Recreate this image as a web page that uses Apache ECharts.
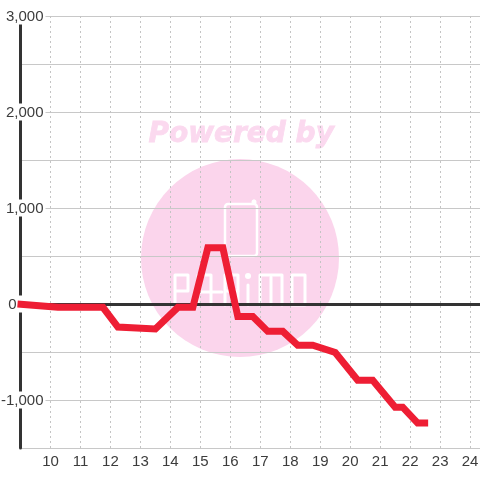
<!DOCTYPE html>
<html>
<head>
<meta charset="utf-8">
<style>html,body{margin:0;padding:0;background:#fff}#c{width:480px;height:480px}</style>
<script src="https://cdn.jsdelivr.net/npm/echarts@6/dist/echarts.min.js"></script>
</head>
<body>
<div id="c"></div>
<script>
const hours = [8.9,10.25,11.75,12.25,13.5,14.25,14.75,15.25,15.75,16.25,16.75,17.25,17.75,18.25,18.75,19.5,20.25,20.75,21.5,21.75,22.25,22.6];
const values = [0,-35,-35,-240,-260,-35,-35,585,585,-130,-130,-285,-285,-430,-430,-505,-795,-795,-1075,-1075,-1240,-1240];
const xTicks = [10,11,12,13,14,15,16,17,18,19,20,21,22,23,24];
const yTicks = [-1000,0,1000,2000,3000];
const seriesData = hours.map((h,i)=>[h,values[i]]);
const pink = '#fbd5ec';
const wm = {stroke:'#ffffff',fill:null,lineWidth:3,lineJoin:'round',lineCap:'round'};
const wmLines = [
 [[175,305],[175,275],[188,275],[188,291],[176,291]],
 [[198,305],[198,275],[211,275],[211,305]],
 [[198,292],[222,292]],
 [[225,305],[225,275],[238,275],[238,291],[226,291]],
 [[238,291],[238,305]],
 [[248,305],[248,285]],
 [[260,305],[260,275],[282,275],[282,305]],
 [[271,277],[271,305]],
 [[292,275],[305,275],[305,305],[292,305],[292,275]],
 [[254,203],[254,201]]
];
const chart = echarts.init(document.getElementById('c'), null, {renderer:'canvas'});
chart.setOption({
 animation:false,
 backgroundColor:'#fff',
 grid:{left:20.5,right:0,top:16,bottom:32,outerBoundsMode:'none'},
 graphic:[
  {type:'circle',z:-10,silent:true,shape:{cx:240,cy:258,r:99},style:{fill:pink}},
  {type:'text',z:-10,silent:true,left:148,top:120,style:{text:'Powered by',fill:'#fbd9ef',stroke:'#fbd9ef',lineWidth:0.8,font:'italic bold 28px "DejaVu Sans"'}},
  {type:'rect',z:-9,silent:true,shape:{x:225,y:204,width:32,height:52,r:3},style:{fill:null,stroke:'#fff',lineWidth:2.5}},
  {type:'circle',z:-9,silent:true,shape:{cx:254,cy:202,r:2.5},style:{fill:'#fff'}},
  {type:'circle',z:-9,silent:true,shape:{cx:248,cy:276,r:3},style:{fill:'#fff'}},
  ...wmLines.map(p=>({type:'polyline',z:-9,silent:true,shape:{points:p},style:wm}))
 ],
 xAxis:[
  {type:'value',min:9,max:24.33,interval:1,position:'bottom',
   axisLine:{onZero:false,show:false},axisTick:{show:false},
   axisLabel:{customValues:xTicks,color:'#3c3c3c',fontSize:15,fontFamily:'Liberation Sans',margin:6,hideOverlap:false},
   splitLine:{show:true,showMinLine:false,showMaxLine:false,lineStyle:{color:'#c4c4c4',type:[2,3],width:1}}},
  {type:'value',min:9,max:24.33,position:'bottom',
   axisLine:{onZero:true,show:true,lineStyle:{color:'#333',width:3}},axisTick:{show:false},
   axisLabel:{show:false},splitLine:{show:false}}
 ],
 yAxis:{type:'value',min:-1500,max:3000,interval:500,
  axisLine:{show:true,onZero:false,lineStyle:{color:'#333',width:3}},axisTick:{show:false},
  axisLabel:{customValues:yTicks,align:'right',margin:-25,color:'#3c3c3c',fontSize:15,fontFamily:'Liberation Sans',
   backgroundColor:'#fff',padding:[2,2,0,1],hideOverlap:false,
   formatter:v=>v===0?'{z|0}':echarts.format.addCommas(v),
   rich:{z:{padding:[0,27,0,0],color:'#3c3c3c',fontSize:15,fontFamily:'Liberation Sans'}}},
  splitLine:{show:true,lineStyle:{color:'#c8c8c8',width:1}}},
 series:[{type:'line',xAxisIndex:0,data:seriesData,symbol:'none',clip:false,z:5,
  lineStyle:{color:'#ee1e34',width:7,join:'miter',cap:'butt'}}]
});
</script>
</body>
</html>
